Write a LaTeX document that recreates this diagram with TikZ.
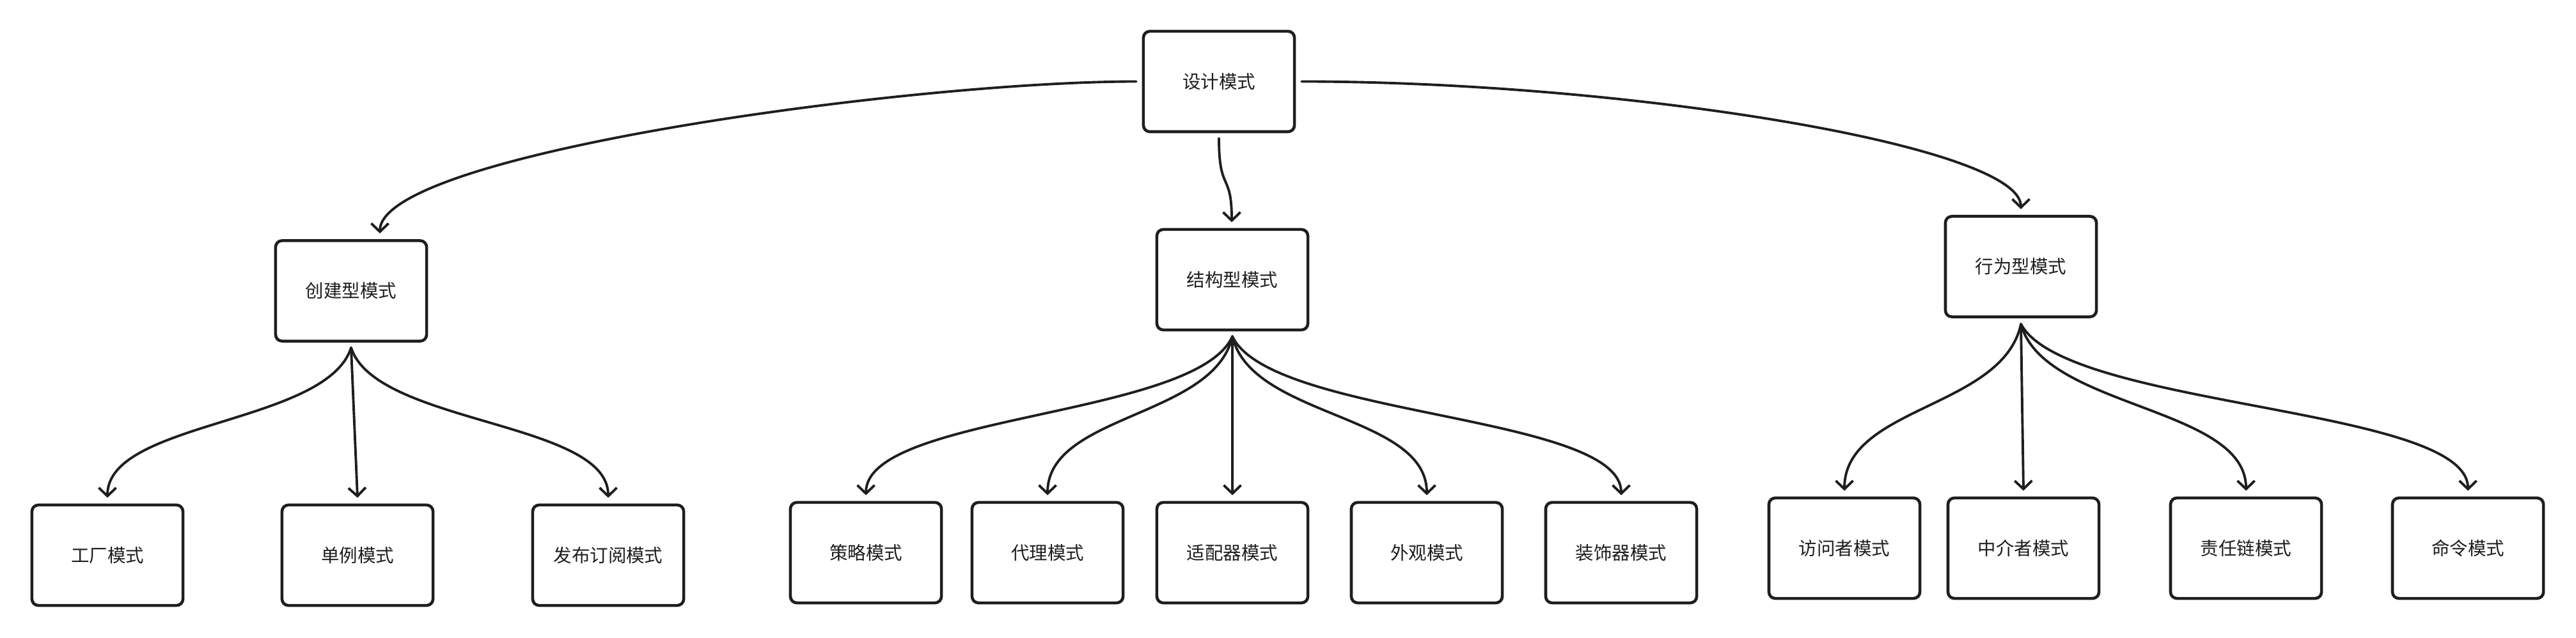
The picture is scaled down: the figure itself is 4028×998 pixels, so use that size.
\documentclass[tikz,border=0pt]{standalone}
\usepackage{fontspec}
\setmainfont{Noto Sans CJK SC}
\usetikzlibrary{arrows.meta,calc}
\definecolor{ink}{HTML}{1E1E1E}
\begin{document}
\begin{tikzpicture}[x=0.01cm,y=-0.01cm,
  box/.style={draw=ink, line width=1.3pt, rounded corners=0.1cm, minimum width=2.36cm, minimum height=1.57cm, inner sep=0pt, font=\fontsize{8.1pt}{10pt}\selectfont, text=ink, fill=white},
  conn/.style={draw=ink, line width=1.1pt, line cap=round, -{Straight Barb[length=0.13cm,width=0.27cm]}}]
\useasboundingbox[fill=white] (0,0) rectangle (4028,998);
% nodes
\node[box] (root) at (1906,127.5) {设计模式};
\node[box] (cj) at (549,455) {创建型模式};
\node[box] (jg) at (1927,437.5) {结构型模式};
\node[box] (xw) at (3160,417) {行为型模式};
\node[box] (gc) at (168,868.5) {工厂模式};
\node[box] (dl) at (559,868.5) {单例模式};
\node[box] (fb) at (951,868.5) {发布订阅模式};
\node[box] (cl) at (1354,864.5) {策略模式};
\node[box] (dlm) at (1638,864.5) {代理模式};
\node[box] (spq) at (1927,864.5) {适配器模式};
\node[box] (wg) at (2231,864.5) {外观模式};
\node[box] (zsq) at (2535,864.5) {装饰器模式};
\node[box] (fwz) at (2884,857.5) {访问者模式};
\node[box] (zjz) at (3164,857.5) {中介者模式};
\node[box] (zrl) at (3512,857.5) {责任链模式};
\node[box] (ml) at (3859,857.5) {命令模式};
% top level
\draw[conn] ($(root.west)+(-9,0)$) .. controls +(-350,0) and +(0,-125) .. ($(cj.north)+(45,-9)$);
\draw[conn] ($(root.south)+(0,8)$) .. controls +(0,86) and +(0,-80) .. ($(jg.north)+(-1,-9)$);
\draw[conn] ($(root.east)+(9,0)$) .. controls +(500,0) and +(0,-100) .. ($(xw.north)+(0,-9)$);
% creational
\draw[conn] ($(cj.south)+(0,8)$) .. controls +(-38,120) and +(0,-120) .. ($(gc.north)+(0,-9)$);
\draw[conn] ($(cj.south)+(0,8)$) -- ($(dl.north)+(0,-9)$);
\draw[conn] ($(cj.south)+(0,8)$) .. controls +(38,120) and +(0,-120) .. ($(fb.north)+(0,-9)$);
% structural
\draw[conn] ($(jg.south)+(0,8)$) .. controls +(-57,127) and +(0,-127) .. ($(cl.north)+(0,-9)$);
\draw[conn] ($(jg.south)+(0,8)$) .. controls +(-29,127) and +(0,-127) .. ($(dlm.north)+(0,-9)$);
\draw[conn] ($(jg.south)+(0,8)$) -- ($(spq.north)+(0,-9)$);
\draw[conn] ($(jg.south)+(0,8)$) .. controls +(30,127) and +(0,-127) .. ($(wg.north)+(0,-9)$);
\draw[conn] ($(jg.south)+(0,8)$) .. controls +(61,127) and +(0,-127) .. ($(zsq.north)+(0,-9)$);
% behavioral
\draw[conn] ($(xw.south)+(0,9)$) .. controls +(-28,132) and +(0,-132) .. ($(fwz.north)+(0,-9)$);
\draw[conn] ($(xw.south)+(0,9)$) -- ($(zjz.north)+(0,-9)$);
\draw[conn] ($(xw.south)+(0,9)$) .. controls +(35,132) and +(0,-132) .. ($(zrl.north)+(0,-9)$);
\draw[conn] ($(xw.south)+(0,9)$) .. controls +(70,132) and +(0,-132) .. ($(ml.north)+(0,-9)$);
\end{tikzpicture}
\end{document}
